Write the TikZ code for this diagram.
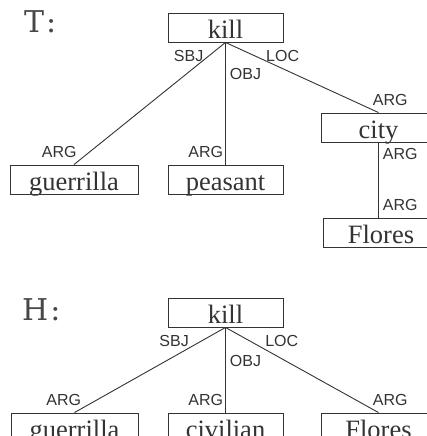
\documentclass[tikz,border=0pt]{standalone}
\usepackage{fontspec}
\setmainfont{Liberation Serif}
\setsansfont{Liberation Sans}
\newfontfamily\slabfont{DejaVu Serif}
\usepackage{tikz}

\definecolor{ink}{HTML}{333333}
\tikzset{
  word/.style={draw=ink, line width=0.9pt, text=ink, minimum width=115pt, minimum height=29pt,
    inner sep=1pt, text height=23pt, text depth=1pt, font=\fontsize{26.5}{30}\selectfont},
  lab/.style={text=ink, inner sep=1pt, font=\sffamily\fontsize{16}{18}\selectfont},
  side/.style={text=ink!90!white, inner sep=0pt, font=\slabfont\fontsize{30}{34}\selectfont},
  link/.style={draw=ink, line width=0.9pt}
}

\begin{document}
\begin{tikzpicture}[x=1pt, y=-1pt]
    \useasboundingbox (0,0) rectangle (427,436);
    \clip (0,0) rectangle (427,436);
    % text T
    \node[side, anchor=base west] (T) at (24,33) {T\hspace{2pt}:};
    \node[word] (tkill) at (225.5,27.5) {kill};
    \node[word, minimum width=128pt] (tguer) at (74,179.5) {guerrilla};
    \node[word] (tpeas) at (225.5,179.5) {peasant};
    \node[word] (tcity) at (378.5,127.5) {city};
    \node[word] (tflo) at (381,232.5) {Flores};
    \draw[link] (tkill.south) -- (tguer.north)
        node[lab, pos=0.17, anchor=south east, xshift=5pt] {SBJ}
        node[lab, pos=1, anchor=south east, xshift=4pt, yshift=5pt] {ARG};
    \draw[link] (tkill.south) -- (tpeas.north)
        node[lab, pos=0.256, right=3pt] {OBJ}
        node[lab, pos=1, anchor=south east, xshift=-1pt, yshift=5pt] {ARG};
    \draw[link] (tkill.south) -- (tcity.north)
        node[lab, pos=0.296, anchor=south west, xshift=-6pt] {LOC}
        node[lab, pos=1, anchor=south west, xshift=-7pt, yshift=5pt] {ARG};
    \draw[link] (tcity.south) -- (tcity.south |- tflo.north)
        node[lab, pos=0, anchor=north west, xshift=3pt, yshift=-4pt] {ARG}
        node[lab, pos=1, anchor=south west, xshift=3pt, yshift=5pt] {ARG};
    % hypothesis H
    \node[side, anchor=base west] (H) at (22,320) {H\hspace{2pt}:};
    \node[word] (hkill) at (225.5,312.5) {kill};
    \node[word, minimum width=127pt] (hguer) at (74.5,427.5) {guerrilla};
    \node[word] (hciv) at (225.5,427.5) {civilian};
    \node[word] (hflo) at (378.5,427.5) {Flores};
    \draw[link] (hkill.south) -- (hguer.north)
        node[lab, pos=0.24, anchor=south east, xshift=1pt] {SBJ}
        node[lab, pos=1, anchor=south east, xshift=8pt, yshift=5pt] {ARG};
    \draw[link] (hkill.south) -- (hciv.north)
        node[lab, pos=0.395, right=3pt] {OBJ}
        node[lab, pos=1, anchor=south east, xshift=-1pt, yshift=5pt] {ARG};
    \draw[link] (hkill.south) -- (hflo.north)
        node[lab, pos=0.244, anchor=south west, xshift=1pt] {LOC}
        node[lab, pos=1, anchor=south west, xshift=-7pt, yshift=5pt] {ARG};
\end{tikzpicture}
\end{document}
